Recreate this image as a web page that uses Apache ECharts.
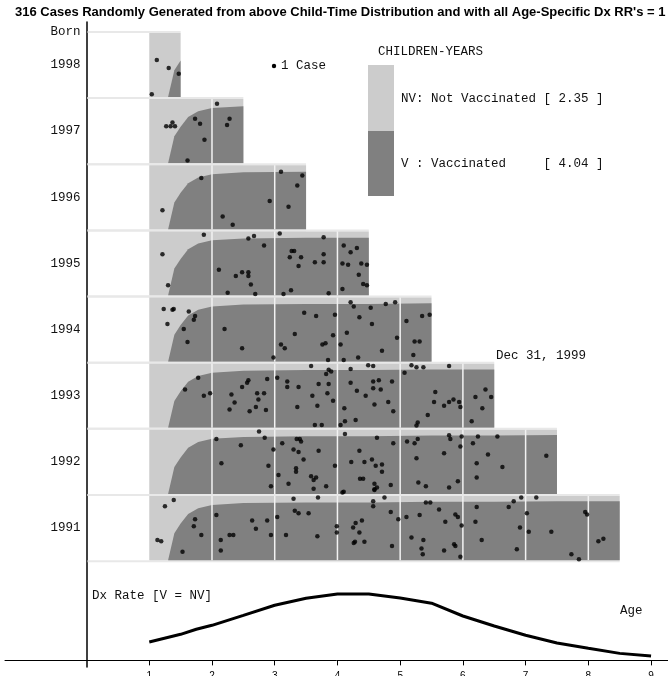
<!DOCTYPE html>
<html>
<head>
<meta charset="utf-8">
<script src="https://cdn.jsdelivr.net/npm/echarts@6/dist/echarts.min.js"></script>
<style>
  html, body { margin: 0; padding: 0; background: #fff; }
  #chart { width: 668px; height: 676px; }
</style>
</head>
<body>
<div id="chart"></div>
<script>
const titleText = "316 Cases Randomly Generated from above Child-Time Distribution and with all Age-Specific Dx RR's = 1";

const birthYears = [1998, 1997, 1996, 1995, 1994, 1993, 1992, 1991];
const rowEndAge = [1.5, 2.5, 3.5, 4.5, 5.5, 6.5, 7.5, 8.5];
const ageTicks = [1, 2, 3, 4, 5, 6, 7, 8, 9];

// vaccinated share of the child-time in a row, by age
const vacAge = [1.3, 1.4, 1.5, 1.62, 1.78, 2.0, 2.5, 3.5, 4.5, 5.5, 6.5, 7.5, 8.5];
const vacShare = [0, 0.42, 0.57, 0.72, 0.81, 0.86, 0.89, 0.9, 0.9, 0.91, 0.91, 0.92, 0.92];

// Dx rate curve (same for V and NV)
const dxAge = [1, 1.5, 1.75, 2, 2.5, 3, 3.5, 4, 4.5, 5, 5.5, 6, 6.5, 7, 7.5, 8, 8.5, 9];
const dxRate = [0.277, 0.394, 0.47, 0.53, 0.68, 0.833, 0.94, 1.005, 1.005, 0.944, 0.864, 0.671, 0.52, 0.379, 0.262, 0.182, 0.106, 0.065];

// cases: [age, position within the row 0..1]
const cases1998 = [[1.12, 0.58], [1.31, 0.45], [1.47, 0.36], [1.04, 0.03]];
const cases1997 = [[1.27, 0.58], [1.34, 0.58], [1.37, 0.64], [1.41, 0.58], [1.73, 0.70], [1.81, 0.62], [1.88, 0.36],
  [2.08, 0.94], [2.28, 0.70], [2.24, 0.60], [1.61, 0.03]];
const cases1996 = [[1.83, 0.81], [1.21, 0.29], [2.17, 0.19], [2.33, 0.06], [2.92, 0.44], [3.10, 0.91], [3.44, 0.85],
  [3.36, 0.69], [3.22, 0.35]];
const cases1995 = [[1.87, 0.96], [1.21, 0.65], [1.30, 0.15], [2.11, 0.40], [2.38, 0.30], [2.48, 0.36], [2.58, 0.36],
  [2.58, 0.30], [2.62, 0.16], [2.25, 0.03], [2.58, 0.90], [2.67, 0.94], [2.83, 0.79], [3.08, 0.98], [3.27, 0.70],
  [3.31, 0.70], [3.24, 0.60], [3.42, 0.60], [3.38, 0.46], [3.26, 0.07], [3.14, 0.01], [2.69, 0.01], [3.64, 0.52],
  [3.78, 0.92], [3.78, 0.65], [3.78, 0.52], [3.86, 0.02], [4.10, 0.79], [4.21, 0.68], [4.31, 0.75], [4.08, 0.50],
  [4.17, 0.48], [4.38, 0.50], [4.47, 0.48], [4.34, 0.32], [4.41, 0.17], [4.47, 0.15], [4.08, 0.09]];
const cases1994 = [[1.23, 0.83], [1.37, 0.82], [1.39, 0.83], [1.29, 0.59], [1.63, 0.79], [1.73, 0.72], [1.71, 0.66],
  [1.55, 0.51], [1.61, 0.30], [2.20, 0.51], [2.48, 0.20], [2.98, 0.05], [3.10, 0.26], [3.16, 0.20], [3.32, 0.43],
  [3.47, 0.77], [3.66, 0.72], [3.96, 0.74], [3.93, 0.41], [3.76, 0.26], [3.81, 0.28], [4.05, 0.26], [4.21, 0.94],
  [4.26, 0.87], [4.35, 0.70], [4.53, 0.85], [4.55, 0.59], [4.15, 0.45], [4.77, 0.91], [4.92, 0.94], [4.95, 0.37],
  [4.71, 0.16], [4.33, 0.05], [5.10, 0.64], [5.35, 0.72], [5.47, 0.74], [5.23, 0.31], [5.31, 0.31], [5.21, 0.09],
  [3.85, 0.01], [4.10, 0.01]];
const cases1993 = [[3.58, 0.98], [4.49, 0.99], [4.57, 0.98], [5.18, 0.99], [5.26, 0.96], [5.37, 0.96], [5.78, 0.98],
  [1.57, 0.60], [1.78, 0.79], [1.87, 0.50], [1.97, 0.54], [2.31, 0.52], [2.36, 0.39], [2.28, 0.28], [2.48, 0.64],
  [2.56, 0.71], [2.58, 0.75], [2.72, 0.54], [2.74, 0.44], [2.70, 0.32], [2.60, 0.25], [2.83, 0.54], [2.86, 0.27],
  [2.88, 0.77], [3.04, 0.79], [3.20, 0.73], [3.20, 0.64], [3.38, 0.64], [3.36, 0.32], [3.60, 0.50], [3.68, 0.34],
  [3.70, 0.69], [3.84, 0.54], [3.86, 0.69], [3.93, 0.42], [3.82, 0.85], [3.86, 0.92], [3.90, 0.89], [4.21, 0.93],
  [4.21, 0.71], [4.31, 0.58], [4.45, 0.50], [4.57, 0.73], [4.66, 0.75], [4.57, 0.62], [4.69, 0.60], [4.59, 0.36],
  [4.87, 0.73], [4.81, 0.40], [4.89, 0.25], [4.11, 0.30], [4.12, 0.09], [4.29, 0.11], [4.05, 0.03], [3.64, 0.03],
  [3.75, 0.03], [5.07, 0.87], [5.56, 0.56], [5.54, 0.40], [5.70, 0.34], [5.78, 0.40], [5.85, 0.44], [5.94, 0.40],
  [5.96, 0.32], [5.44, 0.19], [5.28, 0.07], [5.26, 0.02], [6.20, 0.48], [6.36, 0.60], [6.45, 0.48], [6.31, 0.30],
  [6.14, 0.09]];
const cases1992 = [[2.75, 0.99], [2.07, 0.87], [2.46, 0.77], [2.15, 0.48], [2.84, 0.89], [2.98, 0.70], [2.90, 0.44],
  [3.06, 0.29], [2.94, 0.11], [3.12, 0.80], [3.22, 0.15], [3.30, 0.70], [3.35, 0.87], [3.40, 0.87], [3.42, 0.83],
  [3.38, 0.66], [3.46, 0.54], [3.34, 0.40], [3.34, 0.34], [3.58, 0.27], [3.66, 0.25], [3.62, 0.21], [3.62, 0.07],
  [3.70, 0.68], [3.82, 0.11], [3.96, 0.44], [4.12, 0.95], [4.22, 0.50], [4.35, 0.68], [4.43, 0.50], [4.55, 0.54],
  [4.61, 0.44], [4.71, 0.46], [4.71, 0.34], [4.36, 0.23], [4.41, 0.23], [4.59, 0.15], [4.63, 0.09], [4.59, 0.05],
  [4.85, 0.13], [4.63, 0.89], [4.89, 0.80], [5.11, 0.83], [5.23, 0.80], [5.28, 0.87], [5.26, 0.56], [5.29, 0.17],
  [5.41, 0.11], [5.78, 0.93], [5.80, 0.87], [5.70, 0.64], [5.96, 0.75], [5.98, 0.91], [5.92, 0.19], [5.78, 0.09],
  [6.16, 0.80], [6.24, 0.91], [6.22, 0.48], [6.22, 0.25], [6.40, 0.62], [6.55, 0.91], [6.63, 0.42], [7.33, 0.60],
  [4.08, 0.01], [4.10, 0.02], [4.59, 0.06]];
const cases1991 = [[1.39, 0.95], [1.25, 0.85], [1.13, 0.31], [1.19, 0.29], [1.53, 0.12], [1.73, 0.64], [1.71, 0.53],
  [1.83, 0.39], [2.07, 0.71], [2.14, 0.31], [2.14, 0.14], [2.28, 0.39], [2.34, 0.39], [2.64, 0.62], [2.70, 0.49],
  [2.88, 0.62], [2.94, 0.39], [3.04, 0.68], [3.18, 0.39], [3.30, 0.97], [3.32, 0.78], [3.38, 0.74], [3.54, 0.74],
  [3.69, 0.99], [3.68, 0.37], [3.99, 0.53], [3.99, 0.43], [4.25, 0.51], [4.29, 0.58], [4.39, 0.62], [4.35, 0.43],
  [4.26, 0.26], [4.28, 0.28], [4.43, 0.28], [4.57, 0.93], [4.57, 0.85], [4.75, 0.99], [4.85, 0.76], [4.97, 0.64],
  [5.10, 0.68], [4.87, 0.21], [5.18, 0.35], [5.37, 0.31], [5.34, 0.17], [5.36, 0.08], [5.31, 0.71], [5.41, 0.91],
  [5.48, 0.91], [5.62, 0.80], [5.72, 0.60], [5.70, 0.14], [5.86, 0.24], [5.88, 0.21], [5.88, 0.72], [5.92, 0.68],
  [5.98, 0.54], [5.96, 0.04], [6.22, 0.84], [6.20, 0.60], [6.30, 0.31], [6.73, 0.84], [6.81, 0.93], [6.93, 0.99],
  [7.17, 0.99], [7.02, 0.74], [6.91, 0.51], [7.05, 0.44], [6.86, 0.16], [7.41, 0.44], [7.73, 0.08], [7.85, 0.0],
  [7.95, 0.76], [7.98, 0.72], [8.16, 0.29], [8.24, 0.33]];

const casesByYear = {
  1998: cases1998, 1997: cases1997, 1996: cases1996, 1995: cases1995,
  1994: cases1994, 1993: cases1993, 1992: cases1992, 1991: cases1991
};

const monoFont = '"Liberation Mono", "DejaVu Sans Mono", monospace';
const rowBottom = (year) => year - 1991 + 1.5;

const xMin = -1.3, xMax = 9.27;
const gridLeft = 5, gridWidth = 663;
// push the y axis over to age 0
const yAxisOffset = -gridWidth * (0 - xMin) / (xMax - xMin);

const caseData = [];
birthYears.forEach((year) => {
  casesByYear[year].forEach(([age, pos]) => {
    caseData.push([age, rowBottom(year) + 0.03 + pos * 0.94]);
  });
});

const rowData = birthYears.map((year, i) => [1, rowBottom(year), rowEndAge[i], i]);

function renderRow(params, api) {
  const b = api.value(1);
  const end = api.value(2);
  const tl = api.coord([1, b + 1]);
  const br = api.coord([end, b]);
  const origin = api.coord([0, b]);
  const top = tl[1];
  const bottom = br[1];
  const h = bottom - top;
  const children = [];
  [top, bottom].forEach((yy) => {
    children.push({
      type: "line",
      shape: { x1: origin[0] + 1, y1: yy, x2: br[0], y2: yy },
      style: { stroke: "#e8e8e8", lineWidth: 2 },
    });
  });
  children.push({
    type: "rect",
    shape: { x: tl[0], y: top + 1, width: br[0] - tl[0], height: h - 2 },
    style: { fill: "#cccccc" },
  });
  const pts = [];
  vacAge.forEach((a, k) => {
    if (a <= end + 1e-9) pts.push([api.coord([a, b])[0], bottom - 1 - vacShare[k] * (h - 2)]);
  });
  pts.push([br[0], bottom - 1]);
  children.push({ type: "polygon", shape: { points: pts }, style: { fill: "#808080" } });
  for (let a = 2; a <= end; a++) {
    const x = api.coord([a, b])[0];
    children.push({
      type: "line",
      shape: { x1: x, y1: top + 1, x2: x, y2: bottom - 1 },
      style: { stroke: "#f2f2f2", lineWidth: 1.5 },
    });
  }
  return { type: "group", children };
}

const chart = echarts.init(document.getElementById("chart"));
chart.setOption({
  animation: false,
  title: {
    text: titleText,
    left: 15,
    top: 6,
    padding: 0,
    textStyle: { fontFamily: '"Liberation Sans", Arial, sans-serif', fontSize: 13, fontWeight: "bold", color: "#000" },
  },
  grid: { left: gridLeft, width: gridWidth, top: 22, bottom: 9, outerBoundsMode: "none", containLabel: false },
  xAxis: {
    type: "value",
    min: xMin,
    max: xMax,
    axisLine: { onZero: true, lineStyle: { color: "#000", width: 1 } },
    axisTick: { customValues: ageTicks, length: 5, lineStyle: { color: "#000" } },
    axisLabel: {
      customValues: ageTicks,
      margin: 4,
      fontSize: 10,
      fontFamily: '"Liberation Sans", Arial, sans-serif',
      color: "#000",
    },
    splitLine: { show: false },
  },
  yAxis: {
    type: "value",
    min: -0.1,
    max: 9.65,
    offset: yAxisOffset,
    axisLine: { show: true, onZero: false, lineStyle: { color: "#000", width: 1.5 } },
    axisTick: { show: false },
    axisLabel: {
      customValues: [2, 3, 4, 5, 6, 7, 8, 9, 9.5],
      formatter: (v) => (v > 9.2 ? "Born" : String(1989 + Math.round(v))),
      margin: 6,
      fontSize: 12.5,
      fontFamily: monoFont,
      color: "#111",
    },
    splitLine: { show: false },
  },
  series: [
    {
      type: "custom",
      renderItem: renderRow,
      data: rowData,
      clip: false,
      silent: true,
      z: 1,
    },
    {
      type: "scatter",
      data: caseData,
      symbol: "circle",
      symbolSize: 4.5,
      itemStyle: { color: "#000" },
      silent: true,
      z: 3,
    },
    {
      type: "line",
      data: dxAge.map((a, i) => [a, dxRate[i]]),
      showSymbol: false,
      lineStyle: { color: "#000", width: 3 },
      silent: true,
      z: 3,
    },
  ],
  graphic: [
    { type: "circle", shape: { cx: 274, cy: 66, r: 2.2 }, style: { fill: "#000" } },
    { type: "text", x: 281, y: 66, style: { text: "1 Case", font: "12.5px " + monoFont, fill: "#111", verticalAlign: "middle" } },
    { type: "text", x: 378, y: 52, style: { text: "CHILDREN-YEARS", font: "12.5px " + monoFont, fill: "#111", verticalAlign: "middle" } },
    { type: "rect", shape: { x: 368, y: 65, width: 26, height: 66 }, style: { fill: "#cccccc" } },
    { type: "rect", shape: { x: 368, y: 131, width: 26, height: 65 }, style: { fill: "#808080" } },
    { type: "text", x: 401, y: 99, style: { text: "NV: Not Vaccinated [ 2.35 ]", font: "12.5px " + monoFont, fill: "#111", verticalAlign: "middle" } },
    { type: "text", x: 401, y: 164, style: { text: "V : Vaccinated     [ 4.04 ]", font: "12.5px " + monoFont, fill: "#111", verticalAlign: "middle" } },
    { type: "text", x: 496, y: 356, style: { text: "Dec 31, 1999", font: "12.5px " + monoFont, fill: "#111", verticalAlign: "middle" } },
    { type: "text", x: 92, y: 596, style: { text: "Dx Rate [V = NV]", font: "12.5px " + monoFont, fill: "#111", verticalAlign: "middle" } },
    { type: "text", x: 620, y: 611, style: { text: "Age", font: "12.5px " + monoFont, fill: "#111", verticalAlign: "middle" } },
  ],
});
</script>
</body>
</html>
